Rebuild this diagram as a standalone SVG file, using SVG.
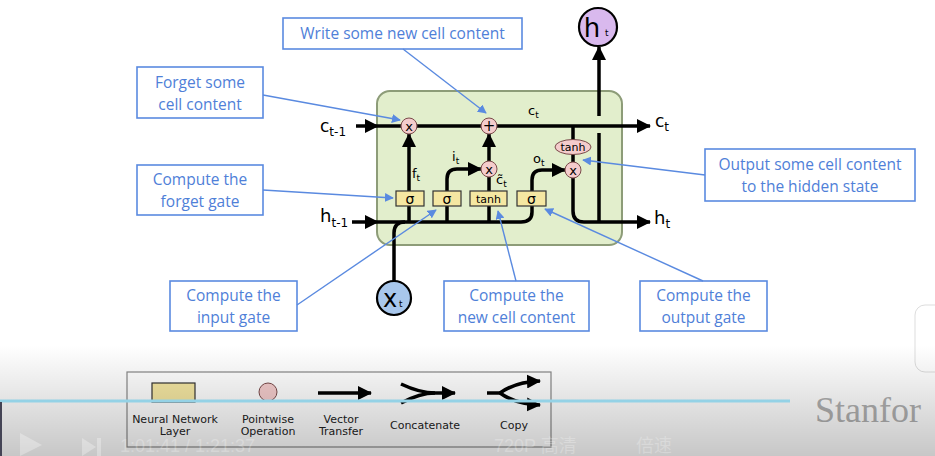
<svg xmlns="http://www.w3.org/2000/svg" width="935" height="456" viewBox="0 0 935 456">
<defs>
<style>
.w{fill:none;stroke:#000;stroke-width:3.5}
.wa{fill:none;stroke:#000;stroke-width:3.5;marker-end:url(#ah)}
.cb{fill:#fff;stroke:#5a8ae0;stroke-width:1.6}
.ct{font-family:"Open Sans","Liberation Sans",Arial,sans-serif;font-size:15.5px;fill:#4f80d8;text-anchor:middle}
.bl{fill:none;stroke:#5a8ae0;stroke-width:1.4;marker-end:url(#bh)}
.lay{fill:#f5e7a2;stroke:#333;stroke-width:1.2}
.pw{fill:#f4cccc;stroke:#7a4a4a;stroke-width:1}
.d{font-family:"DejaVu Sans",Verdana,sans-serif;fill:#000}
.lg{font-family:"DejaVu Sans",Verdana,sans-serif;font-size:11px;fill:#222;text-anchor:middle}
.ov{font-family:"Liberation Sans",Arial,"Noto Sans CJK SC",sans-serif;font-size:18px;fill:#fff;fill-opacity:0.25}
</style>
<marker id="ah" markerUnits="userSpaceOnUse" markerWidth="14" markerHeight="14" viewBox="0 0 14 14" refX="13" refY="7" orient="auto"><path d="M0,0 L14,7 L0,14 z" fill="#000"/></marker>
<marker id="bh" markerUnits="userSpaceOnUse" markerWidth="9" markerHeight="9" viewBox="0 0 10 10" refX="9" refY="5" orient="auto"><path d="M0,0 L10,5 L0,10 z" fill="#5a8ae0"/></marker>
<linearGradient id="shade" x1="0" y1="0" x2="0" y2="1"><stop offset="0" stop-color="#000" stop-opacity="0"/><stop offset="1" stop-color="#000" stop-opacity="0.22"/></linearGradient>
</defs>
<rect width="935" height="456" fill="#fff"/>

<g id="cell">
<rect x="377" y="91" width="245" height="154" rx="13" fill="#e2eecc" stroke="#8d9c78" stroke-width="2"/>
</g>

<g id="connectors">
<path class="wa" d="M356,126 H378"/>
<path class="wa" d="M378,126 H650"/>
<path class="wa" d="M352,222 H378"/>
<path class="w" d="M378,222 H521 Q532,222 532,212 V206"/>
<path class="w" d="M409,222 V206 M447,222 V206 M489,222 V206"/>
<path class="w" d="M394,281 V233 Q394,222 405,222"/>
<path class="wa" d="M409,191 V134"/>
<path class="wa" d="M447,191 V179 Q447,169 457,169 H481"/>
<path class="w" d="M489,191 V177"/>
<path class="wa" d="M489,161 V134"/>
<path class="wa" d="M532,191 V180 Q532,170 542,170 H565"/>
<path class="w" d="M573,126 V140 M573,154 V162"/>
<path class="wa" d="M573,178 V211 Q573,222 584,222 H650"/>
<path class="w" d="M599,133 V222"/>
<path class="wa" d="M599,116 V47"/>
</g>

<g id="ops">
<g id="forget-gate"><rect class="lay" x="396" y="191" width="28" height="15"/><text class="d" x="410" y="204" font-size="14" text-anchor="middle">σ</text></g>
<g id="input-gate"><rect class="lay" x="433" y="191" width="28" height="15"/><text class="d" x="447" y="204" font-size="14" text-anchor="middle">σ</text></g>
<g id="tanh-layer"><rect class="lay" x="470" y="191" width="37" height="15"/><text class="d" x="488.5" y="203" font-size="11" text-anchor="middle">tanh</text></g>
<g id="output-gate"><rect class="lay" x="517" y="191" width="29" height="15"/><text class="d" x="531.5" y="204" font-size="14" text-anchor="middle">σ</text></g>
<g id="mul-forget"><circle class="pw" cx="409" cy="126" r="8"/><text class="d" x="409" y="130.5" font-size="13" text-anchor="middle">x</text></g>
<g id="add"><circle class="pw" cx="489" cy="126" r="8"/><text class="d" x="489" y="131" font-size="15" text-anchor="middle">+</text></g>
<g id="mul-input"><circle class="pw" cx="489" cy="169" r="8"/><text class="d" x="489" y="173.5" font-size="13" text-anchor="middle">x</text></g>
<g id="mul-output"><circle class="pw" cx="573" cy="170" r="8"/><text class="d" x="573" y="174.5" font-size="13" text-anchor="middle">x</text></g>
<g id="tanh-op"><ellipse class="pw" cx="573" cy="147" rx="18" ry="7.5"/><text class="d" x="573" y="151" font-size="11" text-anchor="middle">tanh</text></g>
</g>

<g id="ht-node"><circle cx="598" cy="27" r="19" fill="#d9b9ee" stroke="#000" stroke-width="2.2"/><text class="d" x="592" y="37" font-size="26" text-anchor="middle">h</text><text class="d" x="605" y="36" font-size="9">t</text></g>
<g id="xt-node"><circle cx="394" cy="298" r="17" fill="#a8c7ec" stroke="#000" stroke-width="2.2"/><text class="d" x="390" y="307" font-size="24" text-anchor="middle">x</text><text class="d" x="399" y="307" font-size="9">t</text></g>

<g id="flow-labels" class="d">
<text x="320" y="132" font-size="17">c<tspan font-size="12" dy="4">t-1</tspan></text>
<text x="320" y="222" font-size="18">h<tspan font-size="12" dy="5">t-1</tspan></text>
<text x="655" y="127" font-size="17">c<tspan font-size="12" dy="4">t</tspan></text>
<text x="654" y="224" font-size="18">h<tspan font-size="12" dy="4">t</tspan></text>
<text x="528" y="115" font-size="13">c<tspan font-size="9" dy="3">t</tspan></text>
<text x="412" y="178" font-size="13">f<tspan font-size="9" dy="3">t</tspan></text>
<text x="452" y="161" font-size="13">i<tspan font-size="9" dy="3">t</tspan></text>
<text x="496" y="184" font-size="13">c̃<tspan font-size="9" dy="3">t</tspan></text>
<text x="533" y="163" font-size="13">o<tspan font-size="9" dy="3">t</tspan></text>
</g>

<g id="callout-write"><rect class="cb" x="283" y="18" width="239" height="31"/><text class="ct" x="402.5" y="39">Write some new cell content</text></g>
<g id="callout-forget"><rect class="cb" x="137" y="67" width="126" height="51"/><text class="ct" x="200" y="88">Forget some</text><text class="ct" x="200" y="110">cell content</text></g>
<g id="callout-forget-gate"><rect class="cb" x="137" y="165" width="126" height="50"/><text class="ct" x="200" y="185">Compute the</text><text class="ct" x="200" y="207">forget gate</text></g>
<g id="callout-output-cell"><rect class="cb" x="705" y="149" width="210" height="52"/><text class="ct" x="810" y="170">Output some cell content</text><text class="ct" x="810" y="192">to the hidden state</text></g>
<g id="callout-input-gate"><rect class="cb" x="170" y="281" width="127" height="50"/><text class="ct" x="233.5" y="301">Compute the</text><text class="ct" x="233.5" y="323">input gate</text></g>
<g id="callout-new-cell"><rect class="cb" x="444" y="281" width="145" height="50"/><text class="ct" x="516.5" y="301">Compute the</text><text class="ct" x="516.5" y="323">new cell content</text></g>
<g id="callout-output-gate"><rect class="cb" x="640" y="281" width="127" height="50"/><text class="ct" x="703.5" y="301">Compute the</text><text class="ct" x="703.5" y="323">output gate</text></g>

<g id="callout-connectors">
<path class="bl" d="M263,95 L400,120"/>
<path class="bl" d="M403,49 L486,113"/>
<path class="bl" d="M263,190 L393,198"/>
<path class="bl" d="M297,305 L436,210"/>
<path class="bl" d="M516,281 L498,211"/>
<path class="bl" d="M703,281 L545,209"/>
<path class="bl" d="M705,175 L583,160"/>
</g>

<g id="legend">
<rect x="127" y="372" width="424" height="75" fill="#fff" stroke="#888" stroke-width="1.2"/>
<rect class="lay" x="152" y="383" width="43" height="19" stroke-width="1.4"/>
<circle class="pw" cx="268" cy="392" r="9"/>
<path class="wa" d="M318,393 H371" stroke-width="3"/>
<path class="w" d="M401,384 Q420,393 435,393 M401,403 Q420,393 435,393" stroke-width="3"/>
<path class="wa" d="M430,393 H455" stroke-width="3"/>
<path class="w" d="M487,393 H503" stroke-width="3"/>
<path class="wa" d="M500,393 Q515,382 540,381" stroke-width="3"/>
<path class="wa" d="M500,393 Q515,404 540,405" stroke-width="3"/>
<text class="lg" x="175" y="423">Neural Network</text><text class="lg" x="175" y="435">Layer</text>
<text class="lg" x="268" y="423">Pointwise</text><text class="lg" x="268" y="435">Operation</text>
<text class="lg" x="341" y="423">Vector</text><text class="lg" x="341" y="435">Transfer</text>
<text class="lg" x="425" y="429">Concatenate</text>
<text class="lg" x="514" y="429">Copy</text>
</g>

<g id="player-overlay">
<text x="815" y="422" font-family="Liberation Serif,serif" font-size="36" fill="#b0b0b0">Stanfor</text>
<rect x="915" y="305" width="30" height="67" rx="10" fill="#fff" stroke="#ddd"/>
<rect x="0" y="345" width="935" height="111" fill="url(#shade)"/>
<rect x="0" y="399.5" width="790" height="3" fill="#94d2e6"/>
<rect x="0" y="402" width="2" height="54" fill="#445"/>
<path d="M20,433 L42,445 L20,456 z M82,438 L96,447 L82,456 z M97,438 h4 v18 h-4 z" fill="#fff" fill-opacity="0.3"/>
<text class="ov" x="120" y="452">1:01:41  /  1:21:37</text>
<text class="ov" x="494" y="452">720P 高清</text>
<text class="ov" x="636" y="452">倍速</text>
</g>
</svg>
